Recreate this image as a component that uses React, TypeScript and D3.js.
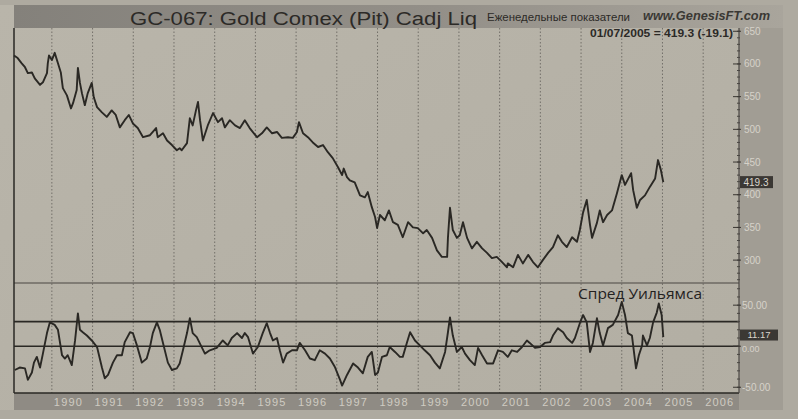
import React from "react";
import * as d3 from "d3";

// ---- data (decimal years) ----
const priceDates = [
  1989.07, 1989.16, 1989.26, 1989.34, 1989.41, 1989.51, 1989.58, 1989.71, 1989.78, 1989.88, 1989.9, 1989.93,
  1990.0, 1990.07, 1990.15, 1990.22, 1990.27, 1990.37, 1990.47, 1990.52, 1990.61, 1990.64, 1990.69, 1990.74,
  1990.81, 1990.88, 1990.98, 1991.03, 1991.11, 1991.23, 1991.35, 1991.47, 1991.57, 1991.67, 1991.79, 1991.89,
  1991.99, 1992.11, 1992.24, 1992.41, 1992.56, 1992.6, 1992.73, 1992.83, 1992.95, 1993.07, 1993.14, 1993.19,
  1993.32, 1993.39, 1993.46, 1993.54, 1993.59, 1993.64, 1993.71, 1993.83, 1993.96, 1994.08, 1994.18, 1994.25,
  1994.37, 1994.5, 1994.62, 1994.74, 1994.86, 1995.04, 1995.16, 1995.28, 1995.41, 1995.53, 1995.65, 1995.8,
  1995.92, 1996.02, 1996.07, 1996.17, 1996.29, 1996.41, 1996.54, 1996.66, 1996.78, 1996.9, 1997.03, 1997.13,
  1997.17, 1997.25, 1997.32, 1997.44, 1997.57, 1997.69, 1997.76, 1997.86, 1997.94, 1997.99, 1998.06, 1998.18,
  1998.28, 1998.38, 1998.5, 1998.62, 1998.75, 1998.87, 1998.99, 1999.12, 1999.21, 1999.34, 1999.46, 1999.58,
  1999.71, 1999.73, 1999.78, 1999.85, 1999.95, 2000.02, 2000.1, 2000.2, 2000.32, 2000.44, 2000.57, 2000.69,
  2000.81, 2000.93, 2001.06, 2001.18, 2001.2, 2001.33, 2001.45, 2001.57, 2001.7, 2001.82, 2001.94, 2002.06,
  2002.19, 2002.31, 2002.43, 2002.53, 2002.65, 2002.78, 2002.9, 2002.97, 2003.05, 2003.14, 2003.22, 2003.27,
  2003.39, 2003.46, 2003.54, 2003.64, 2003.76, 2003.88, 2004.0, 2004.08, 2004.23, 2004.28, 2004.37, 2004.45,
  2004.57, 2004.69, 2004.82, 2004.89, 2004.96, 2005.02,
];
const priceValues = [
  613, 609, 601, 595, 586, 587, 578, 568, 572, 586, 601, 613,
  606, 617, 601, 587, 563, 552, 532, 540, 560, 594, 571, 555,
  537, 555, 571, 549, 534, 526, 519, 529, 522, 503, 514, 522,
  509, 502, 488, 491, 502, 488, 494, 483, 476, 468, 471, 468,
  479, 517, 506, 529, 542, 514, 483, 506, 525, 511, 517, 503,
  514, 506, 502, 514, 502, 488, 494, 503, 494, 496, 487, 488,
  487, 496, 511, 494, 488, 480, 473, 476, 465, 456, 442, 430,
  440, 427, 422, 419, 399, 396, 404, 381, 366, 349, 369, 361,
  376, 358, 354, 335, 358, 350, 349, 341, 346, 334, 315, 305,
  305, 334, 380, 346, 334, 338, 358, 334, 318, 328, 318, 311,
  303, 305, 297, 289, 295, 289, 308, 295, 308, 297, 289, 300,
  311, 320, 338, 328, 320, 335, 328, 346, 373, 392, 354, 334,
  357, 376, 358, 369, 376, 402, 430, 415, 433, 407, 380, 392,
  399, 412, 425, 453, 438, 419.3,
];

const spreadDates = [
  1989.09, 1989.21, 1989.34, 1989.41, 1989.51, 1989.56, 1989.63, 1989.71, 1989.78, 1989.88, 1989.95, 1990.07,
  1990.15, 1990.25, 1990.32, 1990.39, 1990.49, 1990.57, 1990.64, 1990.69, 1990.76, 1990.86, 1990.98, 1991.11,
  1991.23, 1991.3, 1991.38, 1991.5, 1991.6, 1991.72, 1991.79, 1991.92, 1991.99, 1992.09, 1992.21, 1992.33,
  1992.41, 1992.48, 1992.58, 1992.65, 1992.73, 1992.85, 1992.95, 1993.07, 1993.14, 1993.22, 1993.32, 1993.39,
  1993.46, 1993.56, 1993.69, 1993.76, 1993.88, 1994.05, 1994.2, 1994.32, 1994.42, 1994.55, 1994.67, 1994.74,
  1994.82, 1994.94, 1995.06, 1995.18, 1995.28, 1995.36, 1995.43, 1995.53, 1995.6, 1995.68, 1995.77, 1995.9,
  1996.02, 1996.09, 1996.22, 1996.34, 1996.46, 1996.58, 1996.71, 1996.83, 1996.95, 1997.03, 1997.08, 1997.13,
  1997.25, 1997.4, 1997.52, 1997.64, 1997.76, 1997.86, 1997.94, 1998.01, 1998.11, 1998.23, 1998.3, 1998.43,
  1998.55, 1998.62, 1998.72, 1998.8, 1998.92, 1999.04, 1999.16, 1999.29, 1999.41, 1999.53, 1999.66, 1999.73,
  1999.78, 1999.85, 1999.95, 2000.07, 2000.15, 2000.27, 2000.39, 2000.47, 2000.57, 2000.69, 2000.84, 2000.96,
  2001.08, 2001.2, 2001.3, 2001.43, 2001.55, 2001.67, 2001.74, 2001.87, 2001.99, 2002.11, 2002.24, 2002.31,
  2002.43, 2002.56, 2002.65, 2002.78, 2002.85, 2002.97, 2003.05, 2003.14, 2003.22, 2003.29, 2003.39, 2003.46,
  2003.54, 2003.66, 2003.78, 2003.91, 2004.0, 2004.08, 2004.15, 2004.25, 2004.35, 2004.42, 2004.5, 2004.52,
  2004.62, 2004.69, 2004.77, 2004.86, 2004.91, 2004.98, 2005.02,
];
const spreadValues = [
  -29, -26, -27, -41, -32, -20, -13, -26, -9, 16, 29, 26,
  20, -11, -15, -11, -23, 7, 40, 20, 17, 13, 7, -1,
  -26, -39, -35, -20, -11, -11, 5, 17, 16, 1, -20, -15,
  -1, 16, 29, 20, 4, -20, -29, -27, -21, -5, 16, 34,
  16, 11, -2, -9, -5, -2, 7, 1, 10, 16, 10, 16,
  11, -9, -1, 16, 28, 16, 7, 10, -5, -20, -9, -5,
  -5, 4, -5, -15, -17, -5, -9, -15, -25, -35, -41, -48,
  -35, -21, -26, -33, -13, -7, -35, -32, -13, -11, -1, -7,
  -13, -13, 4, 17, 7, 1, -5, -11, -20, -27, -7, 17,
  35, 13, -7, -1, -9, -17, -23, -2, -11, -21, -21, -5,
  -7, -13, -5, -7, -1, 7, 4, -2, -1, 4, 5, 13,
  22, 17, 10, 4, 10, 28, 38, 29, -7, 4, 34, 16,
  1, 22, 26, 38, 54, 38, 16, 13, -27, -11, 1, 13,
  1, 10, 29, 41, 52, 38, 11,
];

const yearTicks = [1990, 1991, 1992, 1993, 1994, 1995, 1996, 1997, 1998, 1999, 2000, 2001, 2002, 2003, 2004, 2005, 2006];
const priceTicks = [650, 600, 550, 500, 450, 400, 350, 300];
const spreadTicks = [50, 0, -50];
const spreadLevels = [30, 0];
const lastDate = "01/07/2005";
const lastPrice = 419.3;
const lastChange = -19.1;
const lastSpread = 11.17;

export default function App() {
  const W = 798;
  const H = 419;
  const left = 14;
  const right = 739;
  const pTop = 28;
  const pBot = 283;
  const sBot = 393;

  const x = d3.scaleLinear().domain([1989.07, 2006.88]).range([left, right]);
  const yP = d3.scaleLinear().domain([265, 655]).range([pBot, pTop]);
  const yS = d3.scaleLinear().domain([-57, 77]).range([sBot, pBot]);

  const priceLine = d3
    .line<number>()
    .x((_, i) => x(priceDates[i]))
    .y((d) => yP(d))
    .curve(d3.curveLinear)(priceValues) as string;
  const spreadLine = d3
    .line<number>()
    .x((_, i) => x(spreadDates[i]))
    .y((d) => yS(d))
    .curve(d3.curveLinear)(spreadValues) as string;

  const minorP = d3.range(270, 656, 10);
  const minorS = d3.range(-50, 76, 10);
  const ink = "#2a2824";
  const font = "'Liberation Sans', Arial, sans-serif";

  return (
    <svg
      width={W}
      height={H}
      style={{ position: "absolute", left: 0, top: 0, display: "block" }}
      fontFamily={font}
    >
      <defs>
        <linearGradient id="band" x1="0" x2="1" y1="0" y2="0">
          <stop offset="0" stopColor="#84817b" />
          <stop offset="0.55" stopColor="#938f88" />
          <stop offset="1" stopColor="#a9a59c" />
        </linearGradient>
        <linearGradient id="bg" x1="0" x2="1" y1="0" y2="1">
          <stop offset="0" stopColor="#b9b5aa" />
          <stop offset="1" stopColor="#b2aea3" />
        </linearGradient>
      </defs>
      {/* page */}
      <rect x={0} y={0} width={W} height={H} fill="#aeaaa0" />
      <rect x={0} y={5} width={783} height={405} fill="url(#bg)" />
      {/* title band */}
      <rect x={left} y={5} width={783 - left} height={pTop - 5} fill="url(#band)" />
      {/* right axis strip */}
      <rect x={right} y={pTop} width={783 - right} height={410 - pTop} fill="#a19d94" />
      {/* bottom axis band */}
      <rect x={left} y={sBot} width={right - left} height={17} fill="#8f8b84" />

      {/* year grid */}
      {yearTicks.map((yr) => (
        <line
          key={"g" + yr}
          x1={x(yr)}
          x2={x(yr)}
          y1={pTop}
          y2={sBot}
          stroke="#5d5a55"
          strokeWidth={1}
          strokeDasharray="1.5,2"
          opacity={0.75}
        />
      ))}

      {/* panel lines */}
      <line x1={left} x2={right} y1={pBot} y2={pBot} stroke="#4a4743" strokeWidth={1.2} />
      {spreadLevels.map((lv) => (
        <line key={"lv" + lv} x1={left} x2={right} y1={yS(lv)} y2={yS(lv)} stroke={ink} strokeWidth={1.6} />
      ))}
      <line x1={left} x2={right} y1={sBot} y2={sBot} stroke={ink} strokeWidth={1.5} />
      <line x1={left} x2={left} y1={pTop} y2={sBot} stroke={ink} strokeWidth={1.5} />
      <line x1={right} x2={right} y1={pTop} y2={sBot} stroke="#4a4743" strokeWidth={1.2} />

      {/* right axis ticks */}
      {minorP.map((v) => (
        <line key={"mp" + v} x1={right - 2} x2={right + 1} y1={yP(v)} y2={yP(v)} stroke="#4a4743" strokeWidth={1} />
      ))}
      {priceTicks.map((v) => (
        <line key={"tp" + v} x1={right - 6} x2={right + 2} y1={yP(v)} y2={yP(v)} stroke="#3a3733" strokeWidth={1} />
      ))}
      {minorS.map((v) => (
        <line key={"ms" + v} x1={right - 2} x2={right + 1} y1={yS(v)} y2={yS(v)} stroke="#4a4743" strokeWidth={1} />
      ))}
      {spreadTicks.map((v) => (
        <line key={"ts" + v} x1={right - 6} x2={right + 2} y1={yS(v)} y2={yS(v)} stroke="#3a3733" strokeWidth={1} />
      ))}
      {priceTicks.map((v) => (
        <text key={"lp" + v} x={right + 5} y={yP(v)} dy="0.35em" fontSize={10} fill="#d6d2c9">
          {v}
        </text>
      ))}
      {spreadTicks.map((v) => (
        <text
          key={"ls" + v}
          x={right + 3}
          y={yS(v) + (v === 0 ? 3 : 0)}
          dy="0.35em"
          fontSize={v === 0 ? 9 : 10}
          fill="#d6d2c9"
        >
          {v.toFixed(2)}
        </text>
      ))}

      {/* series */}
      <path d={priceLine} fill="none" stroke={ink} strokeWidth={1.9} strokeLinejoin="round" />
      <path d={spreadLine} fill="none" stroke={ink} strokeWidth={1.9} strokeLinejoin="round" />

      {/* last-value boxes */}
      <rect x={right + 1} y={yP(lastPrice) - 6} width={33} height={12} fill="#3b3834" />
      <text x={right + 17} y={yP(lastPrice)} dy="0.35em" fontSize={10} fill="#d9d5cc" textAnchor="middle">
        {lastPrice.toFixed(1)}
      </text>
      <rect x={right + 1} y={yS(lastSpread) - 7.5} width={38} height={11} fill="#3b3834" />
      <text x={right + 20} y={yS(lastSpread) - 2} dy="0.35em" fontSize={9.5} fill="#d9d5cc" textAnchor="middle">
        {lastSpread.toFixed(2)}
      </text>

      {/* year labels */}
      {yearTicks.map((yr) => (
        <text key={"y" + yr} x={x(yr) + 2} y={406} fontSize={11} fill="#cfcbc2" textLength={28}>
          {yr}
        </text>
      ))}

      {/* titles */}
      <text x={130} y={25} fontSize={18} fill="#2c2a27" textLength={347} lengthAdjust="spacingAndGlyphs">
        GC-067:  Gold Comex (Pit) Cadj Liq
      </text>
      <text x={487} y={21} fontSize={11} fill="#2c2a27" textLength={143} lengthAdjust="spacingAndGlyphs">
        Еженедельные показатели
      </text>
      <text
        x={643}
        y={20}
        fontSize={12}
        fontStyle="italic"
        fontWeight="bold"
        fill="#3a3834"
        textLength={127}
        lengthAdjust="spacingAndGlyphs"
      >
        www.GenesisFT.com
      </text>
      <text
        x={590}
        y={37}
        fontSize={10.5}
        fontWeight="bold"
        fill="#2c2a27"
        textLength={143}
        lengthAdjust="spacingAndGlyphs"
      >
        {`${lastDate} = ${lastPrice.toFixed(1)} (${lastChange.toFixed(1)})`}
      </text>
      <text
        x={578}
        y={299}
        fontSize={14}
        fill="#24221f"
        fontFamily="'Open Sans', 'Noto Sans', sans-serif"
        textLength={124}
        lengthAdjust="spacingAndGlyphs"
      >
        Спред Уильямса
      </text>
    </svg>
  );
}
